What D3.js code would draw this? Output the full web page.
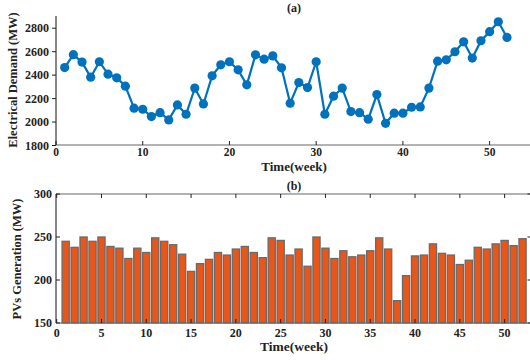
<!DOCTYPE html>
<html><head><meta charset="utf-8">
<script src="https://cdn.jsdelivr.net/npm/d3@7"></script>
<style>body{margin:0;background:#fff}svg text{font-family:"Liberation Serif","Times New Roman",serif !important;font-weight:bold;fill:#222}</style>
</head><body>
<svg id="c" width="530" height="360"></svg>
<script>
const weeks = d3.range(1, 53);
const demand = [2460,2570,2507,2378,2510,2404,2373,2302,2114,2105,2042,2076,2014,2142,2062,2285,2150,2390,2484,2510,2441,2313,2569,2532,2560,2458,2156,2332,2290,2510,2062,2216,2285,2085,2076,2020,2230,1985,2071,2071,2122,2125,2285,2515,2526,2595,2680,2541,2689,2766,2851,2717];
const pv = [245,238,250,245,250,239,237,225,237,232,249,245,241,230,210,219,224,232,229,236,239,232,226,249,246,229,236,216,250,237,225,234,227,229,234,249,236,176,205,228,229,242,231,229,218,223,238,236,242,246,240,248];
const demandTicks = [1800,2000,2200,2400,2600,2800];
const weekTicksA = [0,10,20,30,40,50];
const pvTicks = [150,200,250,300];
const weekTicksB = [0,5,10,15,20,25,30,35,40,45,50];

const svg = d3.select("#c");
const L = 56;

// ---------- (a) ----------
const xa = d3.scaleLinear().domain([0,55]).range([L, 533]);
const ya = d3.scaleLinear().domain([1800,2900]).range([145, 16]);
const ga = svg.append("g");
ga.append("line").attr("x1",L).attr("x2",533).attr("y1",145).attr("y2",145).attr("stroke","#666").attr("stroke-width",1);
ga.selectAll(".xt").data(weekTicksA).enter().append("line")
  .attr("x1",d=>xa(d)).attr("x2",d=>xa(d)).attr("y1",145).attr("y2",141).attr("stroke","#222").attr("stroke-width",1);
ga.selectAll(".xl").data(weekTicksA).enter().append("text")
  .attr("x",d=>xa(d)).attr("y",156).attr("text-anchor","middle").style("font-size","11.5px").text(d=>d);
const yAxisA = d3.axisLeft(ya).tickValues(demandTicks).tickFormat(d3.format("d")).tickSize(4).tickPadding(3);
const gy = ga.append("g").attr("transform",`translate(${L},0)`).call(yAxisA);
gy.attr("font-family",null).attr("font-size",null);
gy.select(".domain").attr("stroke","#111").attr("d",`M0,145V16`);
gy.selectAll(".tick line").attr("stroke","#222");
gy.selectAll("text").style("font-size","12px").attr("dy","0.35em").attr("fill","#222");
ga.append("path").datum(demand)
  .attr("fill","none").attr("stroke","#0072BD").attr("stroke-width",2.2)
  .attr("d", d3.line().x((d,i)=>xa(weeks[i])).y(d=>ya(d)));
ga.selectAll("circle").data(demand).enter().append("circle")
  .attr("cx",(d,i)=>xa(weeks[i])).attr("cy",d=>ya(d)).attr("r",4.6).attr("fill","#0072BD");
svg.append("text").attr("x",294).attr("y",12).attr("text-anchor","middle").style("font-size","12px").text("(a)");
svg.append("text").attr("x",294).attr("y",171).attr("text-anchor","middle").style("font-size","13px").text("Time(week)");
svg.append("text").attr("transform","translate(17,80) rotate(-90)").attr("text-anchor","middle").style("font-size","12.5px").text("Electrical Demand (MW)");

// ---------- (b) ----------
const bTop = 194, bBot = 323, R = 531.5;
const xb = d3.scaleLinear().domain([0,53]).range([L+0.7, R]);
const yb = d3.scaleLinear().domain([150,300]).range([bBot, bTop]);
const gb = svg.append("g");
const bw = (xb(1)-xb(0))*0.8;
gb.selectAll("rect").data(pv).enter().append("rect")
  .attr("x",(d,i)=>xb(weeks[i])-bw/2).attr("width",bw)
  .attr("y",d=>yb(d)).attr("height",d=>bBot-yb(d))
  .attr("fill","#E8561A").attr("stroke","#6a6a6a").attr("stroke-width",1.3);
gb.append("line").attr("x1",L).attr("x2",R).attr("y1",bTop).attr("y2",bTop).attr("stroke","#666");
gb.append("line").attr("x1",L).attr("x2",R).attr("y1",bBot).attr("y2",bBot).attr("stroke","#666");
gb.append("line").attr("x1",L).attr("x2",L).attr("y1",bTop).attr("y2",bBot).attr("stroke","#111");
gb.append("line").attr("x1",R).attr("x2",R).attr("y1",bTop).attr("y2",bBot).attr("stroke","#666");
gb.selectAll(".tb").data(weekTicksB).enter().append("line")
  .attr("x1",d=>xb(d)).attr("x2",d=>xb(d)).attr("y1",bBot).attr("y2",bBot-4).attr("stroke","#222");
gb.selectAll(".tt").data(weekTicksB).enter().append("line")
  .attr("x1",d=>xb(d)).attr("x2",d=>xb(d)).attr("y1",bTop).attr("y2",bTop+4).attr("stroke","#222");
gb.selectAll(".tl").data(pvTicks).enter().append("line")
  .attr("x1",L).attr("x2",L+4).attr("y1",d=>yb(d)).attr("y2",d=>yb(d)).attr("stroke","#222");
gb.selectAll(".tr").data(pvTicks).enter().append("line")
  .attr("x1",R).attr("x2",R-4).attr("y1",d=>yb(d)).attr("y2",d=>yb(d)).attr("stroke","#222");
gb.selectAll(".xlb").data(weekTicksB).enter().append("text")
  .attr("x",d=>xb(d)).attr("y",337).attr("text-anchor","middle").style("font-size","12px").text(d=>d);
gb.selectAll(".ylb").data(pvTicks).enter().append("text")
  .attr("x",L-4).attr("y",d=>yb(d)).attr("dy","0.35em").attr("text-anchor","end").style("font-size","12px").text(d=>d);
svg.append("text").attr("x",294).attr("y",190).attr("text-anchor","middle").style("font-size","12px").text("(b)");
svg.append("text").attr("x",294).attr("y",351).attr("text-anchor","middle").style("font-size","13.5px").text("Time(week)");
svg.append("text").attr("transform","translate(21,259) rotate(-90)").attr("text-anchor","middle").style("font-size","12.5px").text("PVs Generation (MW)");
</script>
</body></html>
